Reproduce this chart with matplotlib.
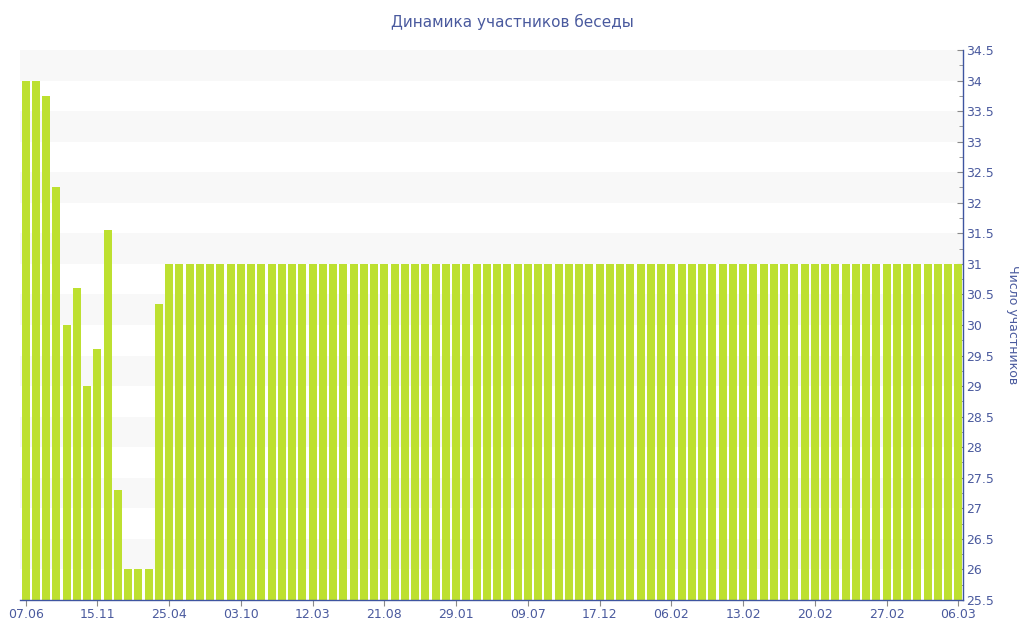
import numpy as np
import matplotlib
matplotlib.use('Agg')
import matplotlib.pyplot as plt
from matplotlib.ticker import MultipleLocator

# participants per period (92 bars)
early_values = [34, 34, 33.75, 32.25, 30, 30.6, 29, 29.6, 31.55, 27.3, 26, 26, 26, 30.35]
late_value = 31
n_late = 78
values = early_values + [late_value] * n_late

tick_labels = ['07.06', '15.11', '25.04', '03.10', '12.03', '21.08', '29.01',
               '09.07', '17.12', '06.02', '13.02', '20.02', '27.02', '06.03']
tick_step = 7

title = 'Динамика участников беседы'
ylabel = 'Число участников'

bar_color = '#bde030'
axis_color = '#3e55a0'
text_color = '#4a5a9e'
band_color = '#f8f8f8'
tick_color = '#8a8a8a'

fig = plt.figure(figsize=(10.24, 6.4), dpi=100)
ax = fig.add_axes([20 / 1024, 1 - 600 / 640, 943 / 1024, 550 / 640])

ymin, ymax = 25.5, 34.5
# alternating background bands
for lo in np.arange(26, 34.5, 1.0):
    ax.axhspan(lo, lo + 0.5, color=band_color, zorder=0, lw=0)

x = np.arange(len(values))
ax.bar(x, values, width=0.76, color=bar_color, zorder=2)

ax.set_xlim(-0.55, len(values) - 0.55)
ax.set_ylim(ymin, ymax)

ax.set_xticks(x[::tick_step])
ax.set_xticklabels(tick_labels)

ax.yaxis.tick_right()
ax.yaxis.set_label_position('right')
ax.yaxis.set_major_locator(MultipleLocator(0.5))
ax.yaxis.set_minor_locator(MultipleLocator(0.25))
ax.set_yticklabels([('%g' % v) for v in ax.get_yticks()])

ax.tick_params(axis='y', which='both', direction='in', colors=tick_color,
               labelcolor=text_color, labelsize=9, pad=2)
ax.tick_params(axis='y', which='major', length=4)
ax.tick_params(axis='y', which='minor', length=3)
ax.tick_params(axis='x', direction='out', length=4, colors=tick_color,
               labelcolor=text_color, labelsize=9, pad=2)

for side in ['top', 'left']:
    ax.spines[side].set_visible(False)
for side in ['right', 'bottom']:
    ax.spines[side].set_color(axis_color)
    ax.spines[side].set_linewidth(1)

ax.set_ylabel(ylabel, rotation=270, color=text_color, fontsize=9, labelpad=18)
fig.text(0.5, 1 - 22 / 640, title, ha='center', va='center',
         color=text_color, fontsize=11)

fig.savefig('out.png', dpi=100)
